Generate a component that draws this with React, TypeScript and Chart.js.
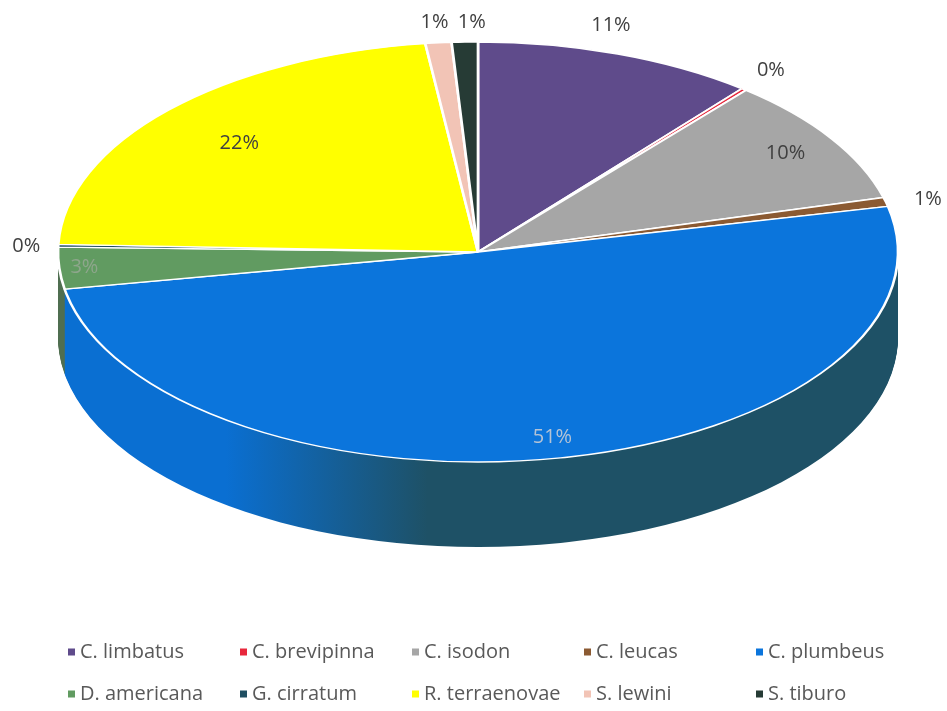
import { useEffect, useRef } from "react";
import { Chart, registerables } from "chart.js";

Chart.register(...registerables);

// Species and their share of the catch (%)
const species = [
  "C. limbatus",
  "C. brevipinna",
  "C. isodon",
  "C. leucas",
  "C. plumbeus",
  "D. americana",
  "G. cirratum",
  "R. terraenovae",
  "S. lewini",
  "S. tiburo",
];
const shares = [10.8, 0.2, 9.8, 0.7, 50.6, 3.2, 0.2, 22.4, 1.0, 1.0];

// Top face colours and the lit/shaded tones of each slice's wall
const topColors = [
  "#5F4B8B",
  "#E8283C",
  "#A6A6A6",
  "#8B5A32",
  "#0B75DC",
  "#619B61",
  "#1F4E61",
  "#FFFF00",
  "#F2C4B6",
  "#263B35",
];
const wallLit = [
  "#4E3E75",
  "#C0202F",
  "#8C8C8C",
  "#734A29",
  "#0A6FD2",
  "#4F6E50",
  "#1A4352",
  "#D9D900",
  "#D6AA9C",
  "#1F302B",
];
const wallShade = [
  "#3A2E58",
  "#8E1722",
  "#6A6A6A",
  "#56371E",
  "#1E5166",
  "#3D553E",
  "#12303B",
  "#A8A800",
  "#A88579",
  "#16221F",
];

// Label placement: fraction of the rim radius, plus a nudge in pixels
const labelRadius = [1, 1, 0.87, 1, 0.9, 0.94, 1, 0.77, 1, 1];
const labelShift: [number, number][] = [
  [-7, -29],
  [27, -19],
  [0, 0],
  [42, -3],
  [0, 0],
  [0, 0],
  [-32, 1],
  [0, 0],
  [-4, -21],
  [7, -20],
];
const labelColors = [
  "#404040",
  "#404040",
  "#404040",
  "#404040",
  "#B4C3D6",
  "#8EA68C",
  "#404040",
  "#404040",
  "#404040",
  "#404040",
];

const FONT = '"Open Sans", "Noto Sans", sans-serif';
const TILT = 0.5; // vertical squash of the pie's top face

type Geo = {
  cx: number;
  cy: number;
  rx: number;
  ry: number;
  depth: number;
  ax: number;
  ay: number;
  R: number;
};

function geometry(chart: any): Geo {
  const a = chart.chartArea;
  const rx = (a.right - a.left) / 2;
  const ry = rx * TILT;
  const depth = a.bottom - a.top - 2 * ry;
  const arc0 = chart.getDatasetMeta(0).data[0] as any;
  return {
    cx: (a.left + a.right) / 2,
    cy: a.top + ry,
    rx,
    ry,
    depth,
    ax: arc0.x,
    ay: arc0.y,
    R: arc0.outerRadius,
  };
}

// Map the library's circular pie onto the tilted ellipse
function toEllipse(ctx: CanvasRenderingContext2D, g: Geo) {
  ctx.translate(g.cx, g.cy);
  ctx.scale(g.rx / g.R, g.ry / g.R);
  ctx.translate(-g.ax, -g.ay);
}

const pie3d = {
  id: "pie3d",
  beforeDatasetsDraw(chart: any) {
    const ctx: CanvasRenderingContext2D = chart.ctx;
    const g = geometry(chart);
    const arcs = chart.getDatasetMeta(0).data as any[];
    const fills = arcs.map((_, i) => {
      const grad = ctx.createLinearGradient(g.ax - g.R, 0, g.ax + g.R, 0);
      grad.addColorStop(0, wallLit[i]);
      grad.addColorStop(0.2, wallLit[i]);
      grad.addColorStop(0.44, wallShade[i]);
      grad.addColorStop(1, wallShade[i]);
      return grad;
    });
    // extrude the pie downward, one pixel layer at a time
    for (let d = Math.round(g.depth); d >= 1; d--) {
      ctx.save();
      ctx.translate(0, d);
      toEllipse(ctx, g);
      arcs.forEach((arc, i) => {
        const ghost = Object.create(arc);
        ghost.options = { ...arc.options, backgroundColor: fills[i], borderWidth: 0 };
        ghost.draw(ctx);
      });
      ctx.restore();
    }
    ctx.save();
    toEllipse(ctx, g);
  },
  afterDatasetsDraw(chart: any) {
    const ctx: CanvasRenderingContext2D = chart.ctx;
    ctx.restore();
    const g = geometry(chart);
    const arcs = chart.getDatasetMeta(0).data as any[];
    const values = chart.data.datasets[0].data as number[];
    const total = values.reduce((s, v) => s + v, 0);
    ctx.save();
    ctx.font = `20px ${FONT}`;
    ctx.textAlign = "center";
    ctx.textBaseline = "middle";
    arcs.forEach((arc, i) => {
      const mid = (arc.startAngle + arc.endAngle) / 2;
      const f = labelRadius[i];
      const x = g.cx + g.rx * f * Math.cos(mid) + labelShift[i][0];
      const y = g.cy + g.ry * f * Math.sin(mid) + labelShift[i][1];
      ctx.fillStyle = labelColors[i];
      ctx.fillText(`${Math.round((values[i] / total) * 100)}%`, x, y);
    });
    ctx.restore();
  },
  afterDraw(chart: any) {
    // two-row legend laid out in columns
    const ctx: CanvasRenderingContext2D = chart.ctx;
    const labels = chart.data.labels as string[];
    const colors = chart.data.datasets[0].backgroundColor as string[];
    const left = 68;
    const colWidth = 172;
    const rowTop = 652;
    const rowGap = 42;
    const perRow = 5;
    ctx.save();
    ctx.font = `20px ${FONT}`;
    ctx.textBaseline = "middle";
    ctx.textAlign = "left";
    labels.forEach((label, i) => {
      const col = i % perRow;
      const row = Math.floor(i / perRow);
      const x = left + col * colWidth;
      const y = rowTop + row * rowGap;
      ctx.fillStyle = colors[i];
      ctx.fillRect(x, y - 3.5, 7, 7);
      ctx.fillStyle = "#595959";
      ctx.fillText(label, x + 12, y);
    });
    ctx.restore();
  },
};

export default function App() {
  const canvasRef = useRef<HTMLCanvasElement | null>(null);

  useEffect(() => {
    if (!canvasRef.current) return;
    const chart = new Chart(canvasRef.current, {
      type: "pie",
      data: {
        labels: species,
        datasets: [
          {
            data: shares,
            backgroundColor: topColors,
            borderColor: "#FFFFFF",
            borderWidth: 1.6,
            clip: false as any,
          },
        ],
      },
      options: {
        animation: false,
        responsive: true,
        maintainAspectRatio: false,
        events: [],
        layout: { padding: { top: 42, left: 58, right: 49, bottom: 164 } },
        plugins: {
          legend: { display: false },
          tooltip: { enabled: false },
        },
      },
      plugins: [pie3d],
    });
    return () => chart.destroy();
  }, []);

  return (
    <div
      style={{
        position: "fixed",
        left: 0,
        top: 0,
        width: 947,
        height: 711,
        background: "#FFFFFF",
      }}
    >
      <canvas ref={canvasRef} />
    </div>
  );
}
